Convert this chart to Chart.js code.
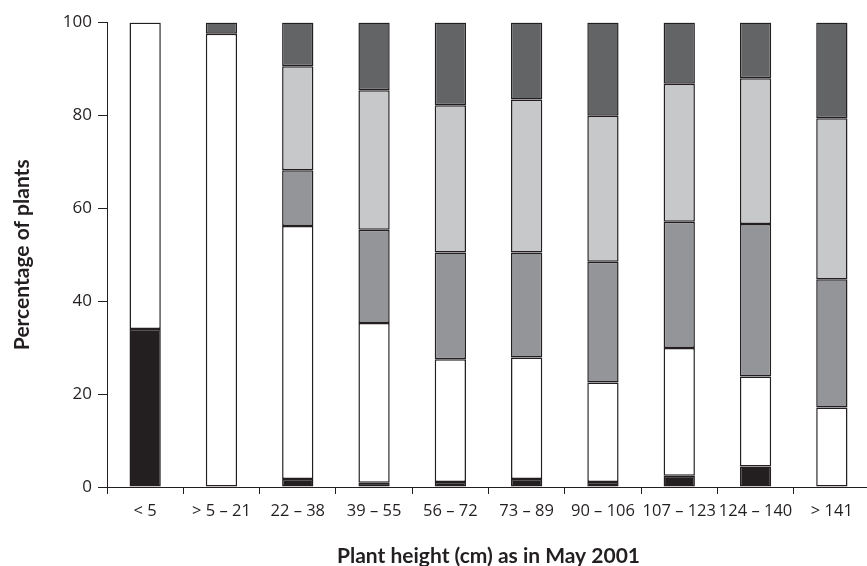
<!DOCTYPE html>
<html>
<head>
<meta charset="utf-8">
<script src="https://cdn.jsdelivr.net/npm/chart.js@4"></script>
<style>
html,body{margin:0;padding:0;overflow:hidden;background:#fff;}
canvas{display:block;}
</style>
</head>
<body>
<canvas id="c" width="872" height="566"></canvas>
<script>
const categories = ['< 5', '> 5 – 21', '22 – 38', '39 – 55', '56 – 72', '73 – 89', '90 – 106', '107 – 123', '124 – 140', '> 141'];
const seriesBlack  = [34, 0, 1.7, 0.9, 1.1, 1.7, 1.1, 2.4, 4.4, 0];
const seriesWhite  = [66, 97.6, 54.5, 34.4, 26.4, 26.2, 21.4, 27.5, 19.4, 17.1];
const seriesMedium = [0, 0, 12, 20.1, 23, 22.6, 26, 27.2, 32.8, 27.6];
const seriesLight  = [0, 0, 22.4, 30, 31.7, 32.9, 31.4, 29.7, 31.4, 34.7];
const seriesDark   = [0, 2.4, 9.4, 14.6, 17.8, 16.6, 20.1, 13.2, 12, 20.6];
const yTicks = [0, 20, 40, 60, 80, 100];

const ink = '#231f20';
function ds(data, color) {
  return {data: data, backgroundColor: color, borderColor: ink, borderWidth: 1.5, borderSkipped: false,
          categoryPercentage: 1, barPercentage: 0.41};
}

new Chart(document.getElementById('c'), {
  type: 'bar',
  data: {
    labels: categories,
    datasets: [
      ds(seriesBlack, '#231f20'),
      ds(seriesWhite, '#ffffff'),
      ds(seriesMedium, '#939598'),
      ds(seriesLight, '#c7c8ca'),
      ds(seriesDark, '#636466')
    ]
  },
  options: {
    responsive: false,
    animation: false,
    devicePixelRatio: 1,
    layout: {padding: {top: 22.5, right: 2, left: 0, bottom: 0}},
    plugins: {legend: {display: false}, tooltip: {enabled: false}},
    scales: {
      x: {
        stacked: true,
        grid: {display: true, offset: true, drawOnChartArea: false, drawTicks: true, tickLength: 7, color: ink, lineWidth: 1},
        border: {display: true, color: ink, width: 1},
        ticks: {color: ink, font: {family: 'Open Sans', size: 16.5}, padding: 7, maxRotation: 0, autoSkip: false},
        title: {display: true, text: 'Plant height (cm) as in May 2001', color: ink,
                font: {family: 'Lato', size: 21, weight: 'bold'}, padding: {top: 0, bottom: -3}},
        afterFit: function(s) { s.height = 79; }
      },
      y: {
        stacked: true,
        min: 0, max: 100,
        afterBuildTicks: function(s) { s.ticks = yTicks.map(v => ({value: v})); },
        grid: {display: true, drawOnChartArea: false, drawTicks: true, tickLength: 9, color: ink, lineWidth: 1},
        border: {display: true, color: ink, width: 1},
        ticks: {color: ink, font: {family: 'Open Sans', size: 17}, padding: 6},
        title: {display: true, text: 'Percentage of plants', color: ink,
                font: {family: 'Lato', size: 21, weight: 'bold'}, padding: {top: 10, bottom: 0}},
        afterFit: function(s) { s.width = 107; }
      }
    }
  }
});
</script>
</body>
</html>
